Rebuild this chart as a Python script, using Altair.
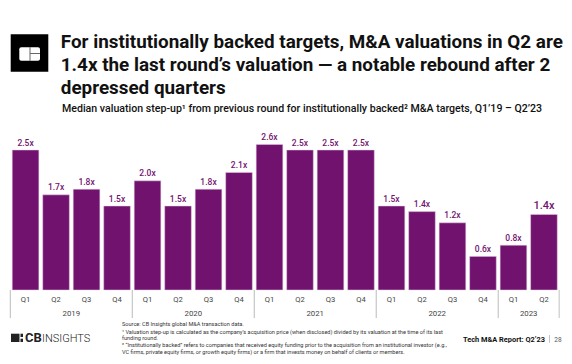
import altair as alt
import pandas as pd

quarters = ["Q1","Q2","Q3","Q4"]*4 + ["Q1","Q2"]
values = [2.5,1.7,1.8,1.5,1.95,1.5,1.8,2.1,2.6,2.5,2.5,2.5,1.5,1.4,1.2,0.6,0.8,1.35]
labels = ["2.5x","1.7x","1.8x","1.5x","2.0x","1.5x","1.8x","2.1x","2.6x","2.5x","2.5x","2.5x","1.5x","1.4x","1.2x","0.6x","0.8x","1.4x"]
years = ["2019","2020","2021","2022","2023"]
year_start = [0,4,8,12,16]
year_end = [4,8,12,16,18]

title_lines = ["For institutionally backed targets, M&A valuations in Q2 are",
               "1.4x the last round\u2019s valuation \u2014 a notable rebound after 2",
               "depressed quarters"]
subtitle = "Median valuation step-up\u00b9 from previous round for institutionally backed\u00b2 M&A targets, Q1\u201919 \u2013 Q2\u201923"
notes = ["Source: CB Insights global M&A transaction data.",
         "\u00b9 Valuation step-up is calculated as the company\u2019s acquisition price (when disclosed) divided by its valuation at the time of its last",
         "funding round.",
         "\u00b2 \u201cInstitutionally backed\u201d refers to companies that received equity funding prior to the acquisition from an institutional investor (e.g.,",
         "VC firms, private equity firms, or growth equity firms) or a firm that invests money on behalf of clients or members."]

PURPLE = "#72126f"
FONT = "Roboto"
W, H = 556, 348
df = pd.DataFrame({"i": range(18), "v": values, "label": labels, "q": quarters})
df["x0"] = df.i - 0.437
df["x1"] = df.i + 0.437
df["xc"] = df.i.astype(float)
dy = pd.DataFrame({"year": years, "s": year_start, "e": year_end})
dy["sx"] = dy.s - 0.5
dy["ex"] = dy.e - 0.5
dy["mid"] = (dy.s + dy.e) / 2 - 0.5

xs = alt.Scale(domain=[-0.5, 17.5], range=[2.3, 551.2])
ys = alt.Scale(domain=[0, 2.6], range=[282, 136.4])
X = lambda f: alt.X(f, type="quantitative", scale=xs, axis=None)

bars = alt.Chart(df).mark_rect(color=PURPLE, stroke="#e6d3e5", strokeWidth=0.5).encode(
    x=X("x0"), x2="x1", y=alt.Y("v:Q", scale=ys, axis=None), y2=alt.datum(0))
val_small = alt.Chart(df[df.i < 17]).mark_text(color=PURPLE, font=FONT, fontWeight=500, fontSize=8.5, baseline="alphabetic", dy=-4.5).encode(
    x=X("xc"), y=alt.Y("v:Q", scale=ys, axis=None), text="label:N")
val_big = alt.Chart(df[df.i == 17]).mark_text(color=PURPLE, font=FONT, fontWeight=500, fontSize=11, baseline="alphabetic", dy=-5).encode(
    x=X("xc"), y=alt.Y("v:Q", scale=ys, axis=None), text="label:N")
q_text = alt.Chart(df).mark_text(color="#444444", font=FONT, fontSize=7.6, baseline="middle").encode(
    x=X("xc"), y=alt.value(291.7), text="q:N")
y_text = alt.Chart(dy).mark_text(color="#444444", font=FONT, fontSize=7.8, baseline="middle").encode(
    x=X("mid"), y=alt.value(305.7), text="year:N")
sep = alt.Chart(dy).mark_rule(color="#aaaaaa", strokeWidth=0.8).encode(
    x=X("sx"), y=alt.value(282), y2=alt.value(310))
sep_end = alt.Chart(dy[dy.year == "2023"]).mark_rule(color="#cccccc", strokeWidth=1.2).encode(
    x=X("ex"), y=alt.value(282), y2=alt.value(310))

def txt(t, x, y, size, weight=400, color="#111111", align="left", font=FONT):
    d = pd.DataFrame({"t": [t]})
    return alt.Chart(d).mark_text(font=font, fontSize=size, fontWeight=weight, color=color, align=align, baseline="alphabetic").encode(
        x=alt.value(x - 8), y=alt.value(y - 8), text="t:N")

texts = [txt(t, 60.8, y, 18.85, 700) for t, y in zip(title_lines, [48.3, 71, 93.5])]
texts.append(txt(subtitle, 62, 112.3, 10.6, 500))
texts += [txt(t, 122, y, 5.6, 400, "#333333") for t, y in zip(notes, [325.5, 333.5, 340, 347, 354])]
texts.append(txt("Tech M&A Report: Q2\u201923", 545, 342, 7.4, 700, align="right"))
texts.append(txt("28", 554.3, 342, 6.5, 400, "#555555"))
texts.append(txt("CB", 25, 342, 13, 700, "#222222"))
texts.append(txt("INSIGHTS", 42, 342, 11, 300, "#222222"))

def box(x0, x1, y0, y1, c, **k):
    d = pd.DataFrame({"a": [0]})
    return alt.Chart(d).mark_rect(color=c, **k).encode(
        x=alt.value(x0 - 8), x2=alt.value(x1 - 8), y=alt.value(y0 - 8), y2=alt.value(y1 - 8))

logo = [box(10.7, 48.3, 34.3, 71.7, "#000000"), box(19.3, 40, 47.3, 60.7, "#ffffff", cornerRadius=2),
        box(29.7, 30.3, 47.3, 60.7, "#000000"), box(30.3, 40, 53, 53.6, "#000000"),
        box(11, 19.5, 333.7, 342, "#222222"), box(20.5, 23, 333.7, 337, "#222222"), box(20.5, 23, 338.7, 342, "#222222"),
        box(549.4, 550, 335, 342.7, "#999999")]

chart = alt.layer(bars, val_small, val_big, sep, sep_end, q_text, y_text, *texts, *logo).properties(
    width=W, height=H, padding=0, autosize=alt.AutoSizeParams(type="none")
).configure_view(stroke=None)

chart.save("out.html", embed_options={"renderer": "svg", "actions": False})
